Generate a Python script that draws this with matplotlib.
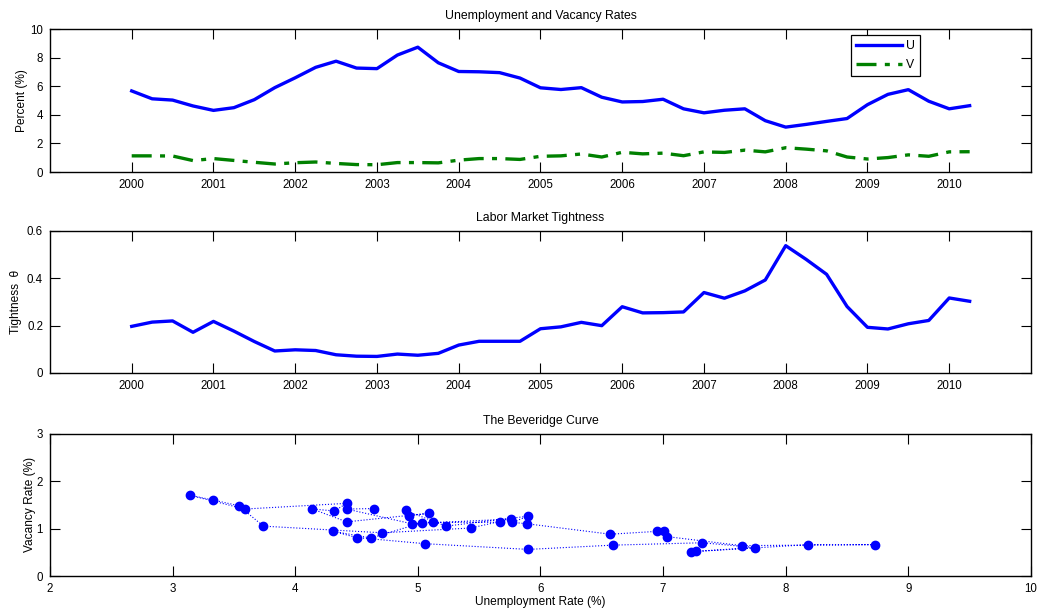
import matplotlib
matplotlib.use("Agg")
import matplotlib.pyplot as plt
import matplotlib.ticker as plticker
import numpy as np

plt.rcParams['font.family'] = ['Liberation Sans', 'DejaVu Sans']
plt.rcParams['font.size'] = 8

# quarterly observations, 2000Q1 .. 2010Q2
years = np.arange(2000, 2010.26, 0.25)

unemp = [5.67, 5.12, 5.03, 4.62, 4.31, 4.50, 5.06, 5.90, 6.59, 7.32, 7.75, 7.27,
         7.23, 8.18, 8.73, 7.64, 7.03, 7.01, 6.95, 6.57, 5.89, 5.77, 5.90, 5.23,
         4.90, 4.93, 5.09, 4.42, 4.14, 4.32, 4.42, 3.59, 3.14, 3.33, 3.54, 3.74,
         4.71, 5.43, 5.76, 4.95, 4.42, 4.64]

vacancy = [1.13, 1.13, 1.12, 0.80, 0.94, 0.81, 0.68, 0.56, 0.65, 0.70, 0.60, 0.52,
           0.51, 0.66, 0.66, 0.64, 0.83, 0.94, 0.94, 0.88, 1.10, 1.13, 1.26, 1.05,
           1.38, 1.27, 1.32, 1.14, 1.41, 1.37, 1.53, 1.41, 1.70, 1.60, 1.48, 1.05,
           0.91, 1.01, 1.20, 1.10, 1.41, 1.42]

tightness = [0.197, 0.215, 0.220, 0.172, 0.218, 0.177, 0.133, 0.093, 0.098, 0.095,
             0.077, 0.071, 0.070, 0.080, 0.075, 0.083, 0.118, 0.134, 0.134, 0.134,
             0.187, 0.195, 0.214, 0.200, 0.280, 0.254, 0.255, 0.258, 0.340, 0.316,
             0.347, 0.393, 0.538, 0.480, 0.417, 0.281, 0.193, 0.186, 0.208, 0.222,
             0.317, 0.303]

year_ticks = list(range(2000, 2011))


# matlab-ish axes: ticks inside on every side
def matlab_axes(ax):
    ax.tick_params(direction='in', top=True, right=True, length=7, width=0.8,
                   labelsize=8.3, pad=5)
    for s in ax.spines.values():
        s.set_linewidth(1.0)


fig = plt.figure(figsize=(10.56, 6.15), dpi=100)
ax1 = fig.add_axes([0.0473, 0.7203, 0.929, 0.2325])
ax2 = fig.add_axes([0.0473, 0.3935, 0.929, 0.2309])
ax3 = fig.add_axes([0.0473, 0.0634, 0.929, 0.2317])

# Unemployment and vacancy rates
ax1.plot(years, unemp, color='#0000ff', lw=2.4, label='U')
ax1.plot(years, vacancy, color='#008000', lw=2.4, ls='-.', label='V',
         dashes=(6, 2.5, 1.5, 2.5))
ax1.set_xlim(1999, 2011)
ax1.set_ylim(0, 10)
ax1.set_xticks(year_ticks)
ax1.set_yticks([0, 2, 4, 6, 8, 10])
ax1.set_title('Unemployment and Vacancy Rates', fontsize=8.8, pad=7)
ax1.set_ylabel('Percent (%)', fontsize=8.6, labelpad=1.5)
matlab_axes(ax1)
leg = ax1.legend(loc='upper right', bbox_to_anchor=(0.893, 1.0), fancybox=False,
                 edgecolor='black', handlelength=3.8, handletextpad=0.3,
                 borderpad=0.4, labelspacing=0.6, framealpha=1, fontsize=8.8)
leg.get_frame().set_linewidth(0.9)

# Labor market tightness
ax2.plot(years, tightness, color='#0000ff', lw=2.4)
ax2.set_xlim(1999, 2011)
ax2.set_ylim(0, 0.6)
ax2.set_xticks(year_ticks)
ax2.set_yticks([0, 0.2, 0.4, 0.6])
ax2.yaxis.set_major_formatter(plticker.FuncFormatter(lambda v, p: '%g' % round(v, 3)))
ax2.set_title('Labor Market Tightness', fontsize=8.8, pad=7)
ax2.set_ylabel('Tightness  \u03b8', fontsize=8.6, labelpad=3.8)
matlab_axes(ax2)

# Beveridge curve
ax3.plot(unemp, vacancy, color='#0000ff', lw=0.8, ls=':', marker='o',
         markersize=6, markerfacecolor='#0000ff', markeredgecolor='#0000ff')
ax3.set_xlim(2, 10)
ax3.set_ylim(0, 3)
ax3.set_xticks(range(2, 11))
ax3.set_yticks([0, 1, 2, 3])
ax3.set_title('The Beveridge Curve', fontsize=8.8, pad=7)
ax3.set_ylabel('Vacancy Rate (%)', fontsize=8.6, labelpad=0.5)
ax3.set_xlabel('Unemployment Rate (%)', fontsize=8.6, labelpad=1)
matlab_axes(ax3)

fig.savefig('out.png', dpi=100)
